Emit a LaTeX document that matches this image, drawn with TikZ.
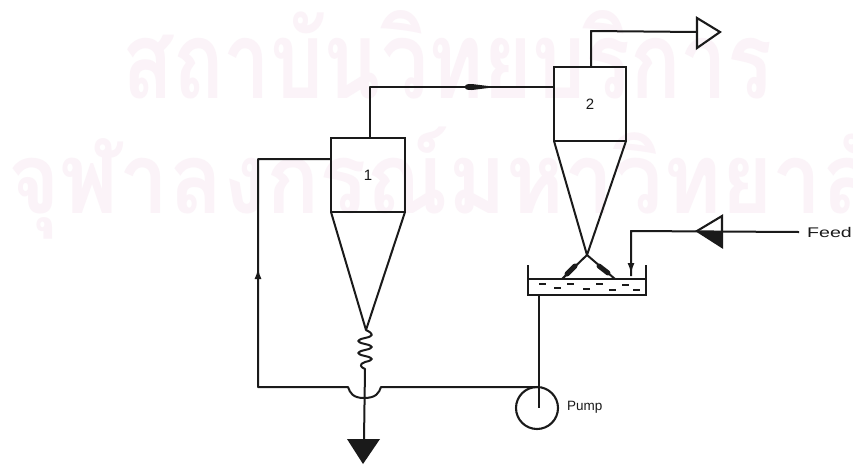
\documentclass[tikz,border=0pt]{standalone}
\usepackage{fontspec}
\setmainfont{Liberation Sans}
\newfontfamily\thaifont[Script=Thai]{Loma}
\usetikzlibrary{arrows.meta,calc}
\definecolor{ink}{HTML}{1A1A1A}
\definecolor{wmark}{HTML}{FBF3F8}
\tikzset{
  pipe/.style={draw=ink,line width=2pt,line join=round},
  vessel/.style={draw=ink,line width=2.1pt,inner sep=0pt,outer sep=0pt,minimum width=74pt,minimum height=74pt,font=\fontsize{15}{15}\selectfont,text=ink},
  lbl/.style={inner sep=0pt,text=ink,font=\fontsize{13.5}{14}\selectfont},
  wm/.style={inner sep=0pt,text=wmark,font=\thaifont\bfseries\fontsize{88}{88}\selectfont},
  flowtip/.style={-{Latex[length=11pt,width=7pt]}},
  liquid/.style={draw=ink,line width=1.2pt},
  headbar/.style={draw=ink,line width=5pt,line cap=round}
}
\begin{document}
\begin{tikzpicture}[x=1pt,y=-1pt]
\useasboundingbox (0,0) rectangle (853,464);
\clip (0,0) rectangle (853,464);
\fill[white] (0,0) rectangle (853,464);
% watermark
\node[wm,anchor=base west] (wm1) at (122,98) {\scalebox{0.95}[1.22]{สถาบันวิทยบริการ}};
\node[wm,anchor=base west] (wm2) at (8,213) {\scalebox{1.0}[1.12]{จุฬาลงกรณ์มหาวิทยาลัย}};
% cyclones
\node[vessel] (c1) at (368,175) {1};
\node[vessel,minimum width=72pt] (c2) at (590,104) {2};
\coordinate (a1) at (366,330);
\coordinate (x2) at (587,255);
\coordinate (l2) at (562,279);
\coordinate (r2) at (615,279);
\draw[pipe] (c1.south west) -- (a1) -- (c1.south east);
\draw[pipe] (c2.south west) -- (x2) -- (c2.south east);
\draw[pipe] (x2) -- (l2);
\draw[pipe] (x2) -- (r2);
\draw[headbar] (567,274) -- (575,266);
\draw[headbar] (608,273) -- (599,266);
% top outlet
\coordinate (o1) at (591,31);
\coordinate (ot) at (697,32);
\draw[pipe] (c2.north |- 0,67) ++(1,0) -- (o1) -- (ot);
\draw[draw=ink,line width=2.1pt,line join=miter] (697,18) -- (720,32) -- (697,48) -- cycle;
% link 1 -> 2
\coordinate (lk) at (370,87);
\draw[pipe] (c1.north -| lk) -- (lk) -- (c2.west |- lk);
\fill[ink] (465,87) .. controls (465,84) and (468,84) .. (472,84) -- (488,86) -- (488,88) -- (472,90) .. controls (468,90) and (465,90) .. (465,87) -- cycle;
% pan
\coordinate (pa) at (528,265);
\coordinate (pb) at (528,295);
\coordinate (pc) at (646,295);
\coordinate (pd) at (646,265);
\draw[draw=ink,line width=2.1pt] (pa) -- (pb) -- (pc) -- (pd);
\draw[liquid,line width=1.7pt] (528,279) -- (646,279);
\foreach \x/\y in {542/284,557/288,570/284,586/289,599/284,612/290,625/285,636/290}
  \draw[liquid] (\x-3,\y) -- (\x+4,\y);
% pump
\node[draw=ink,line width=2.1pt,circle,minimum size=42pt,inner sep=0pt] (pump) at (537,408) {};
\node[lbl,anchor=west] (pl) at (567,407) {Pump};
\draw[pipe] (pb -| pump) ++(2,0) -- ++(0,113);
% recycle
\coordinate (rb) at (258,387);
\coordinate (rt) at (258,159);
\draw[pipe] (539,387) -- (381,387) .. controls (379,393) and (376,398) .. (364,398) .. controls (353,398) and (350,393) .. (348,387) -- (rb) -- (rt) -- (c1.west |- rt);
\draw[pipe,flowtip] (258,290) -- (258,268);
% underflow
\coordinate (sp) at (365,369);
\coordinate (gt) at (364,440);
\draw[pipe] (a1) .. controls (374,334) and (374,336) .. (365,338) .. controls (356,340) and (356,342) .. (365,344)
  .. controls (374,346) and (374,348) .. (365,350) .. controls (356,352) and (356,354) .. (365,356)
  .. controls (374,358) and (374,360) .. (365,362) .. controls (359,364) and (360,367) .. (sp) -- (gt);
\fill[ink] (347,439) -- (380,439) -- (363,464) -- cycle;
% feed
\node[inner sep=0pt,text=ink,anchor=west,font=\fontsize{14}{14}\selectfont] (fd) at (807,232) {\scalebox{1.4}[1]{Feed}};
\coordinate (fc) at (631,231);
\coordinate (fe) at (631,276);
\draw[pipe] (fd.west) ++(-8,0) -- (fc) -- (fe);
\draw[pipe,flowtip] (631,255) -- (631,274);
\draw[draw=ink,line width=2.1pt,line join=miter] (697,231) -- (722,216) -- (722,247) -- cycle;
\fill[ink] (697,231) -- (722,231) -- (722,247) -- cycle;
\end{tikzpicture}
\end{document}
